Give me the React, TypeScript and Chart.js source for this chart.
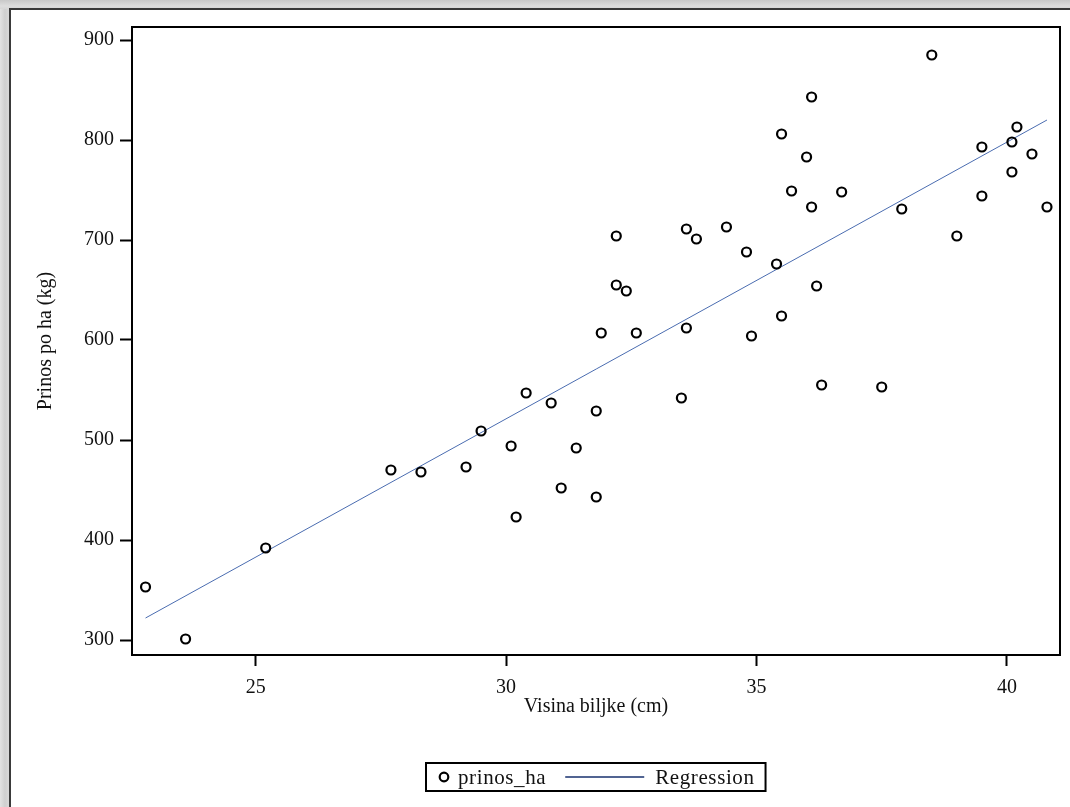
import React, { useEffect, useRef } from "react";
import { Chart, registerables } from "chart.js";

Chart.register(...registerables);

// Data
const heightCm = [
  22.8, 23.6, 25.2, 27.7, 28.3, 29.2, 29.5, 30.1, 30.2, 30.4, 30.9, 31.1,
  31.4, 31.8, 31.8, 31.9, 32.2, 32.2, 32.4, 32.6, 33.5, 33.6, 33.6, 33.8,
  34.4, 34.8, 34.9, 35.4, 35.5, 35.5, 35.7, 36.0, 36.1, 36.1, 36.2, 36.3,
  36.7, 37.5, 37.9, 38.5, 39.0, 39.5, 39.5, 40.1, 40.1, 40.2, 40.5, 40.8,
];
const yieldKg = [
  353, 301, 392, 470, 468, 473, 509, 494, 423, 547, 537, 452,
  492, 529, 443, 607, 704, 655, 649, 607, 542, 711, 612, 701,
  713, 688, 604, 676, 806, 624, 749, 783, 843, 733, 654, 555,
  748, 553, 731, 885, 704, 793, 744, 798, 768, 813, 786, 733,
];
const regressionX = [22.8, 40.8];
const regressionY = [322, 820];
const xTickValues = [25, 30, 35, 40];
const yTickValues = [300, 400, 500, 600, 700, 800, 900];

const seriesLabel = "prinos_ha";
const regressionLabel = "Regression";
const xTitle = "Visina biljke (cm)";
const yTitle = "Prinos po ha (kg)";

const FONT = '"Liberation Serif", "Times New Roman", serif';
const LINE_COLOR = "#4a6cb0";

const framePlugin = {
  id: "plotFrame",
  afterDraw(chart: any) {
    const { ctx, chartArea } = chart;
    ctx.save();
    ctx.strokeStyle = "#000";
    ctx.lineWidth = 2;
    ctx.strokeRect(
      chartArea.left,
      chartArea.top,
      chartArea.right - chartArea.left,
      chartArea.bottom - chartArea.top
    );
    ctx.restore();
  },
};

const legendPlugin = {
  id: "boxLegend",
  afterDraw(chart: any) {
    const { ctx, chartArea } = chart;
    const ds = chart.data.datasets;
    ctx.save();
    ctx.font = `21px ${FONT}`;
    try {
      (ctx as any).letterSpacing = "0.6px";
    } catch (e) {}
    const w1 = ctx.measureText(ds[0].label).width;
    const w2 = ctx.measureText(ds[1].label).width;
    const padL = 13, marker = 10, gap1 = 9, gap2 = 19, lineLen = 79, gap3 = 11, padR = 11;
    const total = padL + marker + gap1 + w1 + gap2 + lineLen + gap3 + w2 + padR;
    const cx = (chartArea.left + chartArea.right) / 2;
    const left = Math.round(cx - total / 2);
    const top = 763;
    const h = 28;
    const cy = top + h / 2;
    ctx.strokeStyle = "#000";
    ctx.lineWidth = 2;
    ctx.strokeRect(left, top, total, h);
    let x = left + padL;
    ctx.beginPath();
    ctx.arc(x + marker / 2, cy, 4.3, 0, Math.PI * 2);
    ctx.lineWidth = 2.2;
    ctx.strokeStyle = "#000";
    ctx.stroke();
    x += marker + gap1;
    ctx.fillStyle = "#111";
    ctx.textBaseline = "middle";
    ctx.textAlign = "left";
    ctx.fillText(ds[0].label, x, cy + 1);
    x += w1 + gap2;
    ctx.beginPath();
    ctx.moveTo(x, cy);
    ctx.lineTo(x + lineLen, cy);
    ctx.strokeStyle = "#17306e";
    ctx.lineWidth = 1.5;
    ctx.stroke();
    x += lineLen + gap3;
    ctx.fillText(ds[1].label, x, cy + 1);
    ctx.restore();
  },
};

export default function App() {
  const canvasRef = useRef<HTMLCanvasElement | null>(null);

  useEffect(() => {
    const canvas = canvasRef.current;
    if (!canvas) return;
    const scatterData = heightCm.map((x, i) => ({ x, y: yieldKg[i] }));
    const lineData = regressionX.map((x, i) => ({ x, y: regressionY[i] }));

    const chart = new Chart(canvas, {
      type: "scatter",
      data: {
        datasets: [
          {
            label: seriesLabel,
            data: scatterData,
            pointRadius: 4.5,
            pointHoverRadius: 4.5,
            pointBorderWidth: 2.2,
            pointBorderColor: "#000",
            pointBackgroundColor: "rgba(255,255,255,0)",
            showLine: false,
            order: 1,
          },
          {
            label: regressionLabel,
            data: lineData,
            type: "line",
            showLine: true,
            borderColor: LINE_COLOR,
            borderWidth: 1,
            pointRadius: 0,
            fill: false,
            order: 2,
          } as any,
        ],
      },
      options: {
        animation: false,
        responsive: false,
        devicePixelRatio: 1,
        layout: { padding: { left: 0, top: 27, right: 10, bottom: 0 } },
        plugins: {
          legend: { display: false },
          tooltip: { enabled: false },
        },
        scales: {
          x: {
            type: "linear",
            min: 22.53,
            max: 41.06,
            afterFit: (s: any) => {
              s.height = 152;
            },
            afterBuildTicks: (s: any) => {
              s.ticks = xTickValues.map((v) => ({ value: v }));
            },
            border: { display: false },
            grid: {
              drawOnChartArea: false,
              drawTicks: true,
              tickLength: 11,
              tickWidth: 2,
              tickColor: "#000",
            },
            ticks: {
              color: "#111",
              padding: 10,
              font: { family: FONT, size: 20 },
              maxRotation: 0,
            },
            title: {
              display: true,
              text: xTitle,
              color: "#111",
              font: { family: FONT, size: 20 },
              padding: { top: 0, bottom: 88 },
            },
          },
          y: {
            type: "linear",
            min: 285,
            max: 913,
            afterFit: (s: any) => {
              s.width = 132;
            },
            afterBuildTicks: (s: any) => {
              s.ticks = yTickValues.map((v) => ({ value: v }));
            },
            border: { display: false },
            grid: {
              drawOnChartArea: false,
              drawTicks: true,
              tickLength: 12,
              tickWidth: 2,
              tickColor: "#000",
            },
            ticks: {
              color: "#111",
              padding: 6,
              font: { family: FONT, size: 20 },
            },
            title: {
              display: true,
              text: yTitle,
              color: "#111",
              font: { family: FONT, size: 20 },
              padding: { top: 34, bottom: 0 },
            },
          },
        },
      },
      plugins: [framePlugin, legendPlugin],
    });
    return () => chart.destroy();
  }, []);

  return (
    <div
      style={{
        position: "fixed",
        left: 0,
        top: 0,
        width: 1070,
        height: 807,
        overflow: "hidden",
        background: "linear-gradient(180deg, #c9c9c9 0px, #dedede 6px, #d6d6d6 9px)",
      }}
    >
      <div
        style={{
          position: "absolute",
          left: 0,
          top: 9,
          width: 9,
          bottom: 0,
          background: "linear-gradient(90deg, #e2e2e2 0px, #cfcfcf 5px, #d9d9d9 9px)",
        }}
      />
      <div
        style={{
          position: "absolute",
          left: 9,
          top: 8,
          right: -10,
          bottom: -10,
          background: "#fff",
          borderLeft: "2px solid #3a3a3a",
          borderTop: "2px solid #3a3a3a",
        }}
      />
      <canvas
        ref={canvasRef}
        width={1070}
        height={807}
        style={{ position: "absolute", left: 0, top: 0, width: 1070, height: 807 }}
      />
    </div>
  );
}
